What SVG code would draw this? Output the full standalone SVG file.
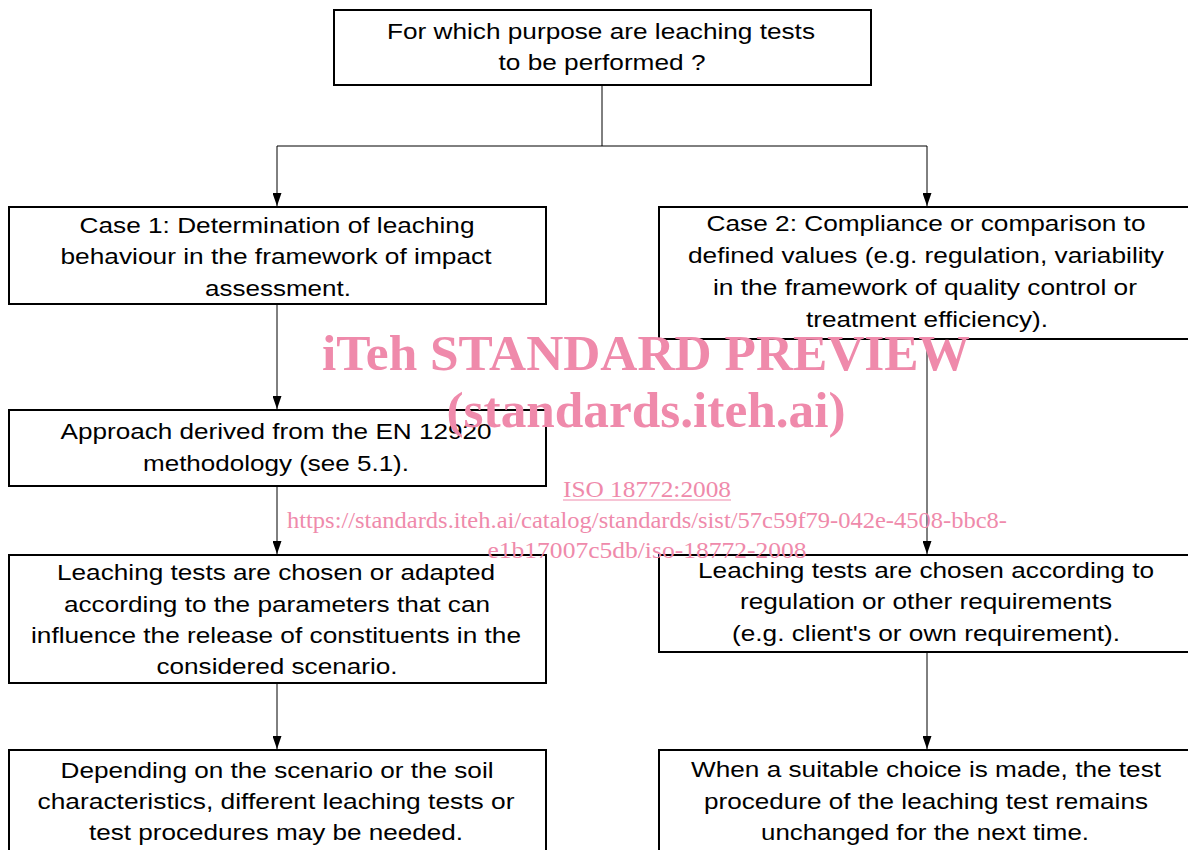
<svg xmlns="http://www.w3.org/2000/svg" width="1188" height="850" viewBox="0 0 1188 850">
<style>
.box{fill:#fff;stroke:#000;stroke-width:2}
.t{font-family:"Liberation Sans",Arial,sans-serif;font-size:22.5px;fill:#000;text-anchor:middle}
.c{fill:none;stroke:#000;stroke-width:1}
.wm{font-family:"Liberation Serif","Times New Roman",serif;fill:#ef8aab;text-anchor:middle}
</style>
<defs>
<marker id="a" markerWidth="13" markerHeight="9" refX="13" refY="4.5" orient="auto" markerUnits="userSpaceOnUse" viewBox="0 0 13 9">
<path d="M0,0 L13,4.5 L0,9 Z" fill="#000"/>
</marker>
</defs>
<g id="connectors">
<polyline class="c" points="602,85 602,146"/>
<polyline class="c" points="277,146 927,146"/>
<line class="c" x1="277" y1="146" x2="277" y2="206" marker-end="url(#a)"/>
<line class="c" x1="927" y1="146" x2="927" y2="206" marker-end="url(#a)"/>
<line class="c" x1="277" y1="304" x2="277" y2="409" marker-end="url(#a)"/>
<line class="c" x1="277" y1="486" x2="277" y2="554" marker-end="url(#a)"/>
<line class="c" x1="927" y1="339" x2="927" y2="554" marker-end="url(#a)"/>
<line class="c" x1="277" y1="683" x2="277" y2="749" marker-end="url(#a)"/>
<line class="c" x1="927" y1="652" x2="927" y2="749" marker-end="url(#a)"/>
</g>
<g id="n0">
<rect class="box" x="334" y="10" width="537" height="75"/>
<text class="t" x="601" y="39" textLength="428" lengthAdjust="spacingAndGlyphs">For which purpose are leaching tests</text>
<text class="t" x="602" y="70" textLength="207" lengthAdjust="spacingAndGlyphs">to be performed ?</text>
</g>
<g id="n1">
<rect class="box" x="9" y="207" width="537" height="97"/>
<text class="t" x="277" y="233" textLength="395" lengthAdjust="spacingAndGlyphs">Case 1: Determination of leaching</text>
<text class="t" x="276" y="264" textLength="431" lengthAdjust="spacingAndGlyphs">behaviour in the framework of impact</text>
<text class="t" x="278" y="296" textLength="146" lengthAdjust="spacingAndGlyphs">assessment.</text>
</g>
<g id="n2">
<rect class="box" x="659" y="207" width="540" height="132"/>
<text class="t" x="926" y="231" textLength="439" lengthAdjust="spacingAndGlyphs">Case 2: Compliance or comparison to</text>
<text class="t" x="926" y="263" textLength="476" lengthAdjust="spacingAndGlyphs">defined values (e.g. regulation, variability</text>
<text class="t" x="925" y="295" textLength="424" lengthAdjust="spacingAndGlyphs">in the framework of quality control or</text>
<text class="t" x="927" y="327" textLength="242" lengthAdjust="spacingAndGlyphs">treatment efficiency).</text>
</g>
<g id="n3">
<rect class="box" x="9" y="410" width="537" height="76"/>
<text class="t" x="276" y="439" textLength="431" lengthAdjust="spacingAndGlyphs">Approach derived from the EN 12920</text>
<text class="t" x="276" y="471" textLength="266" lengthAdjust="spacingAndGlyphs">methodology (see 5.1).</text>
</g>
<g id="n4">
<rect class="box" x="9" y="555" width="537" height="128"/>
<text class="t" x="276" y="580" textLength="438" lengthAdjust="spacingAndGlyphs">Leaching tests are chosen or adapted</text>
<text class="t" x="277" y="612" textLength="426" lengthAdjust="spacingAndGlyphs">according to the parameters that can</text>
<text class="t" x="276" y="643" textLength="490" lengthAdjust="spacingAndGlyphs">influence the release of constituents in the</text>
<text class="t" x="277" y="674" textLength="241" lengthAdjust="spacingAndGlyphs">considered scenario.</text>
</g>
<g id="n5">
<rect class="box" x="659" y="555" width="540" height="97"/>
<text class="t" x="926" y="578" textLength="456" lengthAdjust="spacingAndGlyphs">Leaching tests are chosen according to</text>
<text class="t" x="926" y="609" textLength="372" lengthAdjust="spacingAndGlyphs">regulation or other requirements</text>
<text class="t" x="926" y="641" textLength="388" lengthAdjust="spacingAndGlyphs">(e.g. client's or own requirement).</text>
</g>
<g id="n6">
<rect class="box" x="9" y="750" width="537" height="110"/>
<text class="t" x="277" y="778" textLength="433" lengthAdjust="spacingAndGlyphs">Depending on the scenario or the soil</text>
<text class="t" x="276" y="809" textLength="477" lengthAdjust="spacingAndGlyphs">characteristics, different leaching tests or</text>
<text class="t" x="276" y="840" textLength="374" lengthAdjust="spacingAndGlyphs">test procedures may be needed.</text>
</g>
<g id="n7">
<rect class="box" x="659" y="750" width="540" height="110"/>
<text class="t" x="926" y="777" textLength="470" lengthAdjust="spacingAndGlyphs">When a suitable choice is made, the test</text>
<text class="t" x="926" y="809" textLength="444" lengthAdjust="spacingAndGlyphs">procedure of the leaching test remains</text>
<text class="t" x="925" y="840" textLength="328" lengthAdjust="spacingAndGlyphs">unchanged for the next time.</text>
</g>
<g id="watermark">
<text class="wm" x="646" y="370" font-size="50" font-weight="bold" textLength="648" lengthAdjust="spacingAndGlyphs">iTeh STANDARD PREVIEW</text>
<text class="wm" x="646" y="427" font-size="50" font-weight="bold" textLength="399" lengthAdjust="spacingAndGlyphs">(standards.iteh.ai)</text>
<text class="wm" x="647" y="497" font-size="24" textLength="168" lengthAdjust="spacingAndGlyphs">ISO 18772:2008</text>
<line x1="563" y1="500" x2="731" y2="500" stroke="#ef8aab" stroke-width="1.2"/>
<text class="wm" x="647" y="528" font-size="24" textLength="720" lengthAdjust="spacingAndGlyphs">https://standards.iteh.ai/catalog/standards/sist/57c59f79-042e-4508-bbc8-</text>
<text class="wm" x="647" y="558" font-size="24" textLength="319" lengthAdjust="spacingAndGlyphs">e1b17007c5db/iso-18772-2008</text>
</g>
</svg>
